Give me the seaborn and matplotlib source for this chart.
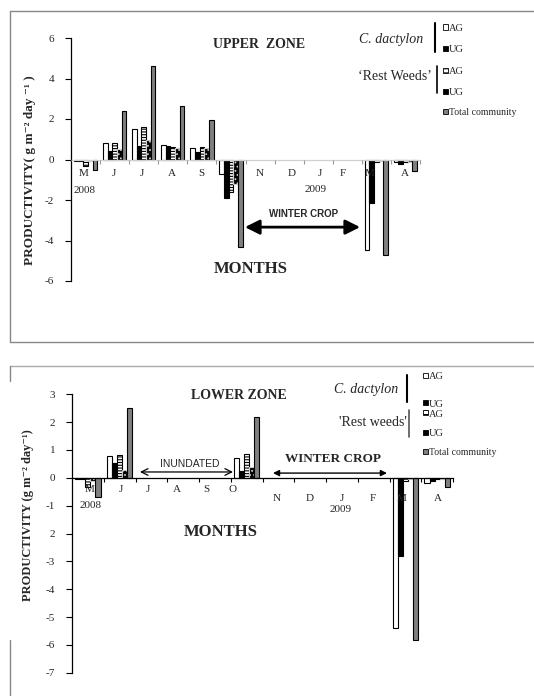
import numpy as np
import pandas as pd
import matplotlib
matplotlib.use("Agg")
import matplotlib.pyplot as plt
import matplotlib.transforms as mtrans
import seaborn as sns
from matplotlib.patches import Rectangle
from matplotlib.lines import Line2D

sns.set_theme(style="white")
plt.rcParams['font.family'] = ['Liberation Serif', 'DejaVu Serif']
plt.rcParams['hatch.linewidth'] = 0.8

nan = np.nan
months_key = ['M08', 'Jun', 'Jul', 'Aug', 'Sep', 'Oct', 'Nov', 'Dec', 'Jan', 'Feb', 'M09', 'Apr']
upper_month_labels = ['M', 'J', 'J', 'A', 'S', '', 'N', 'D', 'J', 'F', 'M', 'A']
lower_month_labels = ['M', 'J', 'J', 'A', 'S', 'O', 'N', 'D', 'J', 'F', 'M', 'A']
series = ['C. dactylon AG', 'C. dactylon UG', 'Rest weeds AG', 'Rest weeds UG', 'Total community']

upper_cd_ag = [-0.05, 0.8, 1.5, 0.7, 0.55, -0.7, nan, nan, nan, nan, -4.45, -0.1]
upper_cd_ug = [-0.08, 0.4, 0.65, 0.65, 0.35, -1.9, nan, nan, nan, nan, -2.15, -0.2]
upper_rw_ag = [-0.3, 0.8, 1.6, 0.6, 0.6, -1.6, nan, nan, nan, nan, -0.1, -0.1]
upper_rw_ug = [-0.05, 0.5, 0.95, 0.55, 0.55, -1.2, nan, nan, nan, nan, -0.05, -0.1]
upper_total = [-0.5, 2.4, 4.6, 2.65, 1.95, -4.3, nan, nan, nan, nan, -4.7, -0.55]

lower_cd_ag = [-0.05, 0.8, nan, nan, nan, 0.7, nan, nan, nan, nan, -5.4, -0.18]
lower_cd_ug = [-0.05, 0.55, nan, nan, nan, 0.25, nan, nan, nan, nan, -2.8, -0.1]
lower_rw_ag = [-0.32, 0.82, nan, nan, nan, 0.85, nan, nan, nan, nan, -0.1, -0.05]
lower_rw_ug = [-0.1, 0.28, nan, nan, nan, 0.38, nan, nan, nan, nan, -0.05, -0.05]
lower_total = [-0.68, 2.52, nan, nan, nan, 2.17, nan, nan, nan, nan, -5.83, -0.33]

upper_yticks = [6, 4, 2, 0, -2, -4, -6]
upper_yticklabels = ['6', '4', '2', '0', '-2', '-4', '-6']
lower_yticks = [3, 2, 1, 0, -1, -2, -3, -4, -5, -6, -7]
lower_yticklabels = ['3', '2', '1', '0', '-1', '2', '-3', '-4', '-5', '-6', '-7']

# where the month letters sit along the category axis (as printed in the original)
upper_label_pos = [-0.05, 0.98, 1.94, 2.97, 3.97, 5.0, 6.0, 7.1, 8.06, 8.85, 9.78, 10.98]
lower_label_pos = [0.07, 1.03, 1.89, 2.81, 3.72, 4.57, 5.96, 7.0, 8.0, 8.98, 9.89, 11.03]


def long_df(cols):
    rows = []
    for s, vals in zip(series, cols):
        for m, v in zip(months_key, vals):
            rows.append({'month': m, 'series': s, 'value': v})
    return pd.DataFrame(rows).dropna()


W, H = 534, 696
fig = plt.figure(figsize=(W / 100, H / 100), dpi=100)


def fx(px):
    return px / W


def fy(py):
    return 1 - py / H


def fline(x0, y0, x1, y1, color='#888888', lw=1.0):
    fig.add_artist(Line2D([fx(x0), fx(x1)], [fy(y0), fy(y1)], transform=fig.transFigure,
                          color=color, lw=lw))


def ftext(px, py, s, **kw):
    fig.text(fx(px), fy(py), s, **kw)


face = {'C. dactylon AG': 'white', 'C. dactylon UG': 'black', 'Rest weeds AG': 'white',
        'Rest weeds UG': 'black', 'Total community': '#808080'}


def style_bars(ax):
    for cont, s in zip(ax.containers, series):
        for p in cont.patches:
            p.set_facecolor(face[s])
            p.set_edgecolor('black')
            p.set_linewidth(0.8)
            if s == 'Rest weeds AG':
                p.set_hatch('------')
            if s == 'Rest weeds UG':
                p.set_hatch('....')
                try:
                    p.set_hatchcolor('white')
                except Exception:
                    p.set_edgecolor('#cccccc')


def draw_panel(ax, cols, ylim, yticks, yticklabels, mlabels, lpos, xaxis_color):
    df = long_df(cols)
    sns.barplot(data=df, x='month', y='value', hue='series', order=months_key,
                hue_order=series, palette=face, width=0.8, errorbar=None,
                legend=False, ax=ax, saturation=1)
    style_bars(ax)
    ax.set_axisbelow(False)
    ax.set_xlim(-0.5, 11.5)
    ax.set_ylim(*ylim)
    for sp in ['top', 'right']:
        ax.spines[sp].set_visible(False)
    ax.spines['left'].set_color('black')
    ax.spines['left'].set_linewidth(0.9)
    ax.spines['bottom'].set_position(('data', 0))
    ax.spines['bottom'].set_color(xaxis_color)
    ax.spines['bottom'].set_linewidth(0.9)
    ax.set_yticks(yticks)
    ax.set_yticklabels(yticklabels, fontsize=8)
    ax.set_xticks(lpos)
    ax.set_xticklabels(mlabels, fontsize=8)
    ax.set_xticks([k - 0.5 for k in range(1, 13)], minor=True)
    ax.tick_params(axis='y', which='major', direction='out', length=4, width=0.8,
                   color='black', pad=8, left=True)
    ax.tick_params(axis='x', which='major', length=0, pad=7)
    ax.tick_params(axis='x', which='minor', direction='out', length=3, width=0.8,
                   color='#999999', bottom=True)
    ax.set_xlabel('')
    ax.set_ylabel('')
    ax.patch.set_alpha(0)


# ---------- frames ----------
fline(10, 11, 534, 11)
fline(10, 11, 10, 342)
fline(10, 342, 534, 342)
fline(10, 366, 534, 366, color='#aaaaaa')
fline(10, 366, 10, 381, color='#888888')
fline(10, 640, 10, 696, color='#888888')

# ---------- upper panel ----------
ax1 = fig.add_axes([fx(71), fy(281), fx(420) - fx(71), fy(38) - fy(281)])
draw_panel(ax1, [upper_cd_ag, upper_cd_ug, upper_rw_ag, upper_rw_ug, upper_total],
           (-6, 6), upper_yticks, upper_yticklabels, upper_month_labels, upper_label_pos,
           '#d0d0d0')
ax1.text(5.96, 5.68, 'UPPER  ZONE', ha='center', va='center', fontsize=10, fontweight='bold')
ax1.text(5.69, -5.43, 'MONTHS', ha='center', va='center', fontsize=12, fontweight='bold')
ax1.text(-0.05, -1.53, '2008', ha='center', va='center', fontsize=8)
ax1.text(7.92, -1.48, '2009', ha='center', va='center', fontsize=8)
ax1.annotate('', xy=(5.48, -3.34), xytext=(9.44, -3.34),
             arrowprops=dict(arrowstyle='<|-|>', color='black', lw=2,
                             mutation_scale=22, shrinkA=0, shrinkB=0))
ax1.text(7.48, -2.67, 'WINTER CROP', ha='center', va='center', fontsize=7,
         fontweight='bold', family=['Liberation Sans', 'DejaVu Sans'])
ftext(30, 170, 'PRODUCTIVITY( g m\u207b\u00b2 day \u207b\u00b9 )', rotation=90,
      ha='center', va='center', fontsize=9.5, fontweight='bold')

# ---------- lower panel ----------
ax2 = fig.add_axes([fx(72), fy(672.7), fx(453) - fx(72), fy(394.3) - fy(672.7)])
draw_panel(ax2, [lower_cd_ag, lower_cd_ug, lower_rw_ag, lower_rw_ug, lower_total],
           (-7, 3), lower_yticks, lower_yticklabels, lower_month_labels, lower_label_pos,
           'black')
ax2.tick_params(axis='x', which='minor', color='black')
ax2.tick_params(axis='x', which='major', pad=5)
for i, lab in enumerate(ax2.get_xticklabels()):
    if i >= 6:
        lab.set_transform(lab.get_transform() +
                          mtrans.ScaledTranslation(0, -0.09, fig.dpi_scale_trans))
ax2.text(4.76, 2.97, 'LOWER ZONE', ha='center', va='center', fontsize=10, fontweight='bold')
ax2.text(4.19, -1.95, 'MONTHS', ha='center', va='center', fontsize=12, fontweight='bold')
ax2.text(0.1, -1.0, '2008', ha='center', va='center', fontsize=8)
ax2.text(7.97, -1.12, '2009', ha='center', va='center', fontsize=8)
ax2.annotate('', xy=(1.64, 0.21), xytext=(4.57, 0.21),
             arrowprops=dict(arrowstyle='<->', color='black', lw=0.9,
                             mutation_scale=12, shrinkA=0, shrinkB=0))
ax2.text(3.22, 0.5, 'INUNDATED', ha='center', va='center', fontsize=7.5,
         family=['Liberation Sans', 'DejaVu Sans'])
ax2.annotate('', xy=(5.83, 0.17), xytext=(9.42, 0.17),
             arrowprops=dict(arrowstyle='<|-|>', color='black', lw=1.0,
                             mutation_scale=9, shrinkA=0, shrinkB=0))
ax2.text(7.72, 0.675, 'WINTER CROP', ha='center', va='center', fontsize=9.5, fontweight='bold')
ftext(28, 515, 'PRODUCTIVITY (g m\u207b\u00b2 day\u207b\u00b9)', rotation=90,
      ha='center', va='center', fontsize=9, fontweight='bold')


# ---------- legends ----------
def sq(px, py, s, size=5):
    r = Rectangle((fx(px), fy(py + size / 2)), fx(size), size / H, transform=fig.transFigure,
                  facecolor=face[s], edgecolor='black', lw=0.6)
    if s == 'Rest weeds AG':
        r.set_hatch('----')
    if s == 'Rest weeds UG':
        r.set_hatch('...')
        try:
            r.set_hatchcolor('white')
        except Exception:
            pass
    fig.add_artist(r)


def legend_block(xr_name, x_line, x_sq, y_cd, cd_lines, y_rw_text, rw_lines, ys, rw_label, rw_line_color):
    ftext(xr_name, y_cd, 'C. dactylon', ha='right', va='center', fontsize=10, style='italic')
    fline(x_line, cd_lines[0], x_line, cd_lines[1], color='black', lw=1.5)
    ftext(xr_name + 9, y_rw_text, rw_label, ha='right', va='center', fontsize=10)
    fline(x_line + 2, rw_lines[0], x_line + 2, rw_lines[1], color=rw_line_color, lw=1.2)
    labels = ['AG', 'UG', 'AG', 'UG', 'Total community']
    for s, y, lab in zip(series, ys, labels):
        sq(x_sq, y, s)
        ftext(x_sq + 6, y + 1.5, lab, ha='left', va='center',
              fontsize=7.5 if lab != 'Total community' else 7)


legend_block(423, 435, 443, 40, (23, 52), 76, (66, 93), [27, 48, 70, 91, 111],
             '\u2018Rest Weeds\u2019', 'black')
legend_block(398, 407, 423, 389, (375, 402), 423, (410, 437), [375, 403, 413, 432, 451],
             "'Rest weeds'", '#555555')

fig.savefig('out.png', dpi=100)
